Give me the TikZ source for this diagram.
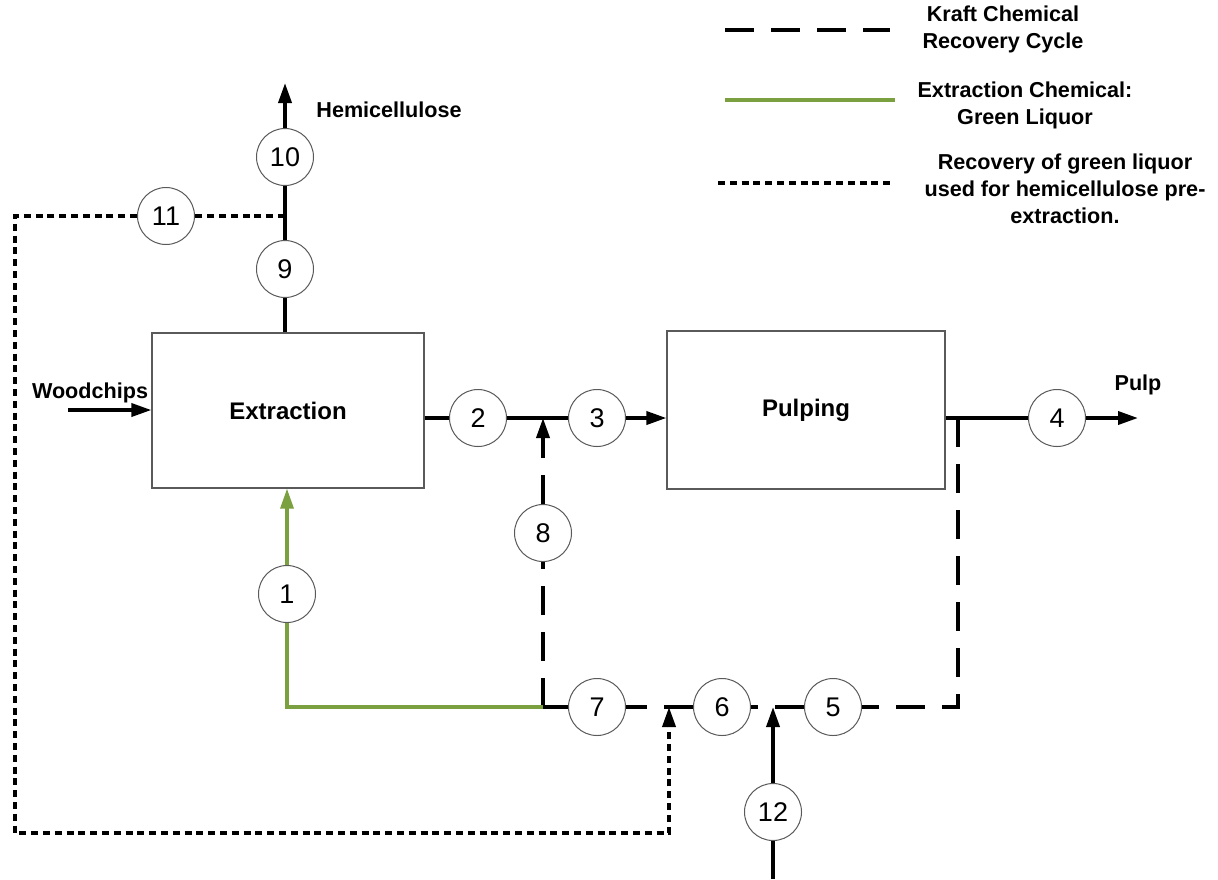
\documentclass[tikz,border=0pt]{standalone}
\usepackage{fontspec}
\setmainfont{Liberation Sans}
\usetikzlibrary{arrows.meta}
\definecolor{gl}{RGB}{122,160,64}
\definecolor{edge}{RGB}{90,90,90}
\tikzset{
  flow/.style={line width=1.8pt,black},
  tip/.style={-{Triangle[length=10pt,width=6.5pt]}},
  kraft/.style={flow,dash pattern=on 14.5pt off 8.5pt},
  recov/.style={flow,dash pattern=on 3.5pt off 2.4pt},
  green/.style={line width=1.6pt,gl},
  num/.style={circle,draw=edge,line width=0.5pt,fill=white,minimum size=28.5pt,inner sep=0pt,font=\fontsize{13.5}{15}\selectfont},
  unit/.style={rectangle,draw=edge,line width=0.6pt,inner sep=0pt,font=\fontsize{12}{14}\selectfont\bfseries},
  lbl/.style={font=\fontsize{10.8}{13.5}\selectfont\bfseries,inner sep=0pt,align=center}
}
\begin{document}
\begin{tikzpicture}[x=0.5pt,y=-0.5pt]
\useasboundingbox (0,0) rectangle (1218,879);
% process units
\node[unit,minimum width=136pt,minimum height=77.5pt] (ext) at (288,410.5) {Extraction};
\node[unit,minimum width=139pt,minimum height=79pt] (pul) at (806,410) {Pulping};
% stream circles
\node[num] (c10) at (285,157) {10};
\node[num] (c9) at (285,269) {9};
\node[num] (c11) at (166,216) {11};
\node[num] (c2) at (478,418) {2};
\node[num] (c3) at (597,418) {3};
\node[num] (c4) at (1057,418) {4};
\node[num] (c8) at (543,533) {8};
\node[num] (c1) at (287,594) {1};
\node[num] (c7) at (597,707) {7};
\node[num] (c6) at (722,707) {6};
\node[num] (c5) at (833,707) {5};
\node[num] (c12) at (773,812) {12};
% junctions and free ends
\coordinate (wc) at (68,410);
\coordinate (htop) at (285,83);
\coordinate (j11) at (285,216);
\coordinate (d1) at (15,216);
\coordinate (d2) at (15,833);
\coordinate (d3) at (669,833);
\coordinate (j76) at (669,707);
\coordinate (j8) at (543,418);
\coordinate (j7) at (543,707);
\coordinate (g1) at (287,707);
\coordinate (j12) at (773,707);
\coordinate (k1) at (958,707);
\coordinate (j4) at (958,418);
\coordinate (ptip) at (1138,418);
\coordinate (bot) at (773,879);
% labels
\node[lbl] (lwood) at (90,393) {Woodchips};
\node[lbl,anchor=west] (lhemi) at (316,110) {Hemicellulose};
\node[lbl] (lpulp) at (1138,385) {Pulp};
% solid black streams
\draw[flow,tip] (wc) -- (ext.west |- wc);
\draw[flow] (ext.north -| c9) -- (c9);
\draw[flow] (c9) -- (c10);
\draw[flow,tip] (c10) -- (htop);
\draw[flow] (ext.east |- c2) -- (c2);
\draw[flow] (c2) -- (c3);
\draw[flow,tip] (c3) -- (pul.west |- c3);
\draw[flow] (pul.east |- c4) -- (c4);
\draw[flow,tip] (c4) -- (ptip);
\draw[flow] (bot) -- (c12);
\draw[flow,tip] (c12) -- (j12);
% kraft recovery cycle
\draw[kraft] (j4) -- (k1) -- (c5);
\draw[kraft] (c5) -- (j12) -- (c6);
\draw[kraft] (c6) -- (j76) -- (c7);
\draw[kraft] (c7) -- (j7);
\draw[kraft] (j7) -- (c8);
\draw[kraft,tip] (c8) -- (j8);
% green liquor
\draw[green] (j7) -- (g1) -- (c1);
\draw[green,tip] (c1) -- (ext.south -| c1);
% recovery of green liquor
\draw[recov] (j11) -- (c11);
\draw[recov,tip] (c11) -- (d1) -- (d2) -- (d3) -- (j76);
% legend
\coordinate (la1) at (725,30); \coordinate (la2) at (890,30);
\coordinate (lb1) at (725,100); \coordinate (lb2) at (895,100);
\coordinate (lc1) at (718,183); \coordinate (lc2) at (893,183);
\draw[kraft] (la1) -- (la2);
\draw[green] (lb1) -- (lb2);
\draw[recov] (lc1) -- (lc2);
\node[lbl] (ta) at (1003,29) {Kraft Chemical\\Recovery Cycle};
\node[lbl] (tb) at (1025,105) {Extraction Chemical:\\Green Liquor};
\node[lbl] (tc) at (1065,189) {Recovery of green liquor\\used for hemicellulose pre-\\extraction.};
\end{tikzpicture}
\end{document}
